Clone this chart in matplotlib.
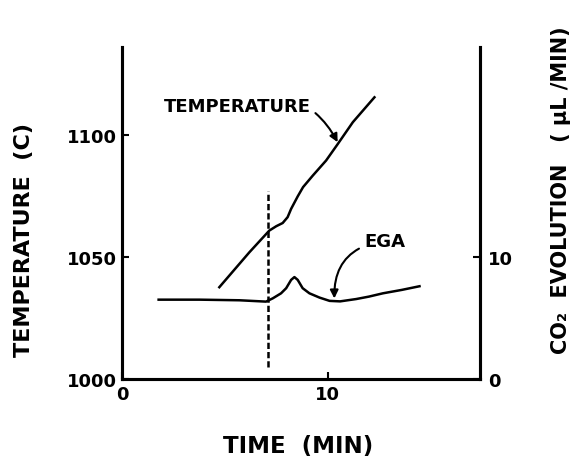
import matplotlib
matplotlib.use("Agg")
import matplotlib.pyplot as plt

# temperature trace (min, C)
temp_t = [4.73, 6.19, 7.16, 7.5, 7.81, 8.05, 8.22, 8.54, 8.8, 9.27, 9.92, 10.49, 11.22, 12.27]
temp_c = [1037.6, 1051.9, 1060.8, 1062.6, 1063.9, 1066.3, 1069.7, 1074.8, 1078.6, 1083.3, 1089.5, 1096.3, 1105.2, 1115.4]

# EGA trace (min, uL/min)
ega_t = [1.78, 3.76, 5.71, 7.0, 7.33, 7.73, 7.98, 8.22, 8.38, 8.54, 8.78, 9.11, 9.6, 10.09, 10.6, 11.38, 12.0, 12.68, 13.6, 14.46]
ega_v = [6.5, 6.5, 6.45, 6.34, 6.61, 7.02, 7.44, 8.12, 8.35, 8.12, 7.44, 7.02, 6.67, 6.4, 6.36, 6.55, 6.75, 7.02, 7.3, 7.6]

# dashed marker
mark_t = 7.12
mark_lo, mark_hi = 1004.8, 1077.0

plt.rcParams["font.family"] = "DejaVu Sans"
plt.rcParams["font.weight"] = "bold"

fig = plt.figure(figsize=(5.76, 4.6), dpi=100)
ax = fig.add_axes([122/576, 1-380/460, (480-122)/576, (380-48)/460])
ax2 = ax.twinx()

ax.plot(temp_t, temp_c, color="black", lw=1.8, solid_joinstyle="round")
ax.plot([mark_t, mark_t], [mark_lo, mark_hi], color="black", lw=1.8, ls=(0, (2.5, 1.2)))
ax2.plot(ega_t, ega_v, color="black", lw=1.8, solid_joinstyle="round")

ax.set_xlim(0, 17.4)
ax.set_ylim(1000, 1136)
ax2.set_ylim(0, 27.2)

for a in (ax, ax2):
    a.spines["top"].set_visible(False)
    for s in ("left", "right", "bottom"):
        a.spines[s].set_linewidth(2.2)

ax.set_yticks([1000, 1050, 1100])
ax.set_xticks([0, 10])
ax2.set_yticks([0, 10])
ax.tick_params(axis="both", direction="in", length=5, width=1.5, labelsize=13, pad=4)
ax2.tick_params(axis="y", direction="in", length=5, width=1.5, labelsize=13, pad=6)

# axis titles placed in figure pixels
fig.text(24/576, 1-240/460, "TEMPERATURE  (C)", rotation=90, fontsize=16,
         ha="center", va="center")
fig.text(298/576, 1-447/460, "TIME  (MIN)", fontsize=16.5, ha="center", va="center")
fig.text(561/576, 1-190/460, "CO\u2082  EVOLUTION   ( \u03bcL /MIN)", rotation=90,
         fontsize=15, ha="center", va="center")

ax.annotate("TEMPERATURE", xy=(10.48, 1097), xytext=(5.59, 1112),
            fontsize=13, ha="center", va="center",
            arrowprops=dict(arrowstyle="-|>", color="black", lw=1.5,
                            mutation_scale=12, shrinkA=2, shrinkB=0,
                            connectionstyle="arc3,rad=-0.45"))
ax2.annotate("EGA", xy=(10.32, 6.6), xytext=(12.77, 11.3),
             fontsize=13, ha="center", va="center",
             arrowprops=dict(arrowstyle="-|>", color="black", lw=1.5,
                             mutation_scale=12, shrinkA=2, shrinkB=0,
                             connectionstyle="arc3,rad=0.45"))

fig.savefig("out.png", dpi=100)
